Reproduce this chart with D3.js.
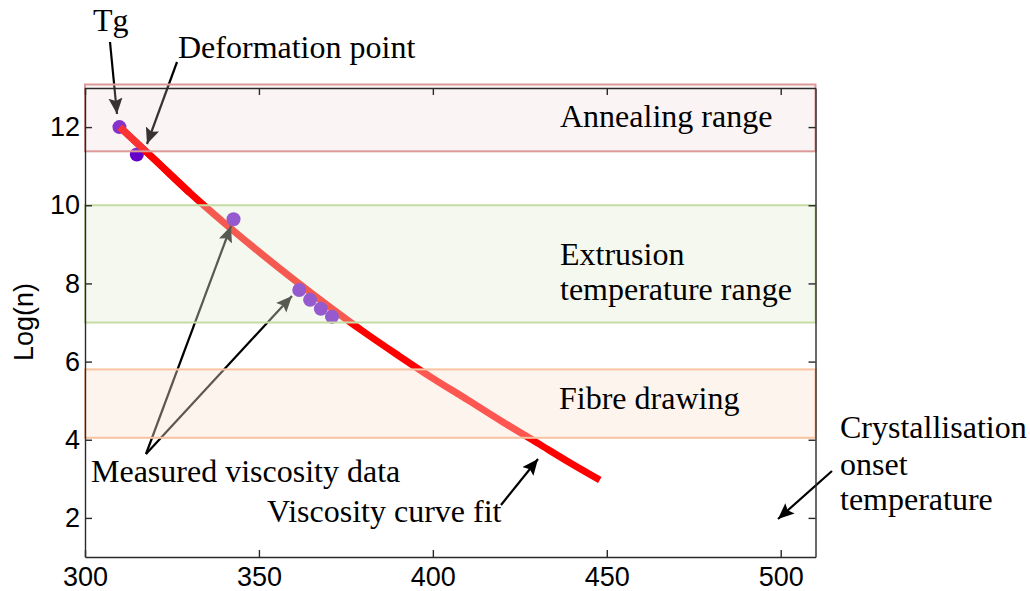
<!DOCTYPE html>
<html>
<head>
<meta charset="utf-8">
<script src="https://cdn.jsdelivr.net/npm/d3@7"></script>
<style>
  html, body { margin: 0; padding: 0; background: #fff; }
  svg { display: block; }
</style>
</head>
<body>
<svg id="chart" width="1030" height="591"></svg>
<script>
// ---- data ----
const xTicks = [300, 350, 400, 450, 500];
const yTicks = [2, 4, 6, 8, 10, 12];

// viscosity curve fit (temperature, log viscosity)
const fitTemp = [310, 320, 330, 340, 350, 360, 370, 380, 390, 400, 410, 420, 430, 440, 448];
const fitLogN = [12.0, 11.17, 10.33, 9.55, 8.81, 8.1, 7.42, 6.77, 6.16, 5.57, 5.02, 4.46, 3.92, 3.38, 2.97];

// measured viscosity data
const measTemp = [309.9, 314.9, 342.7, 361.6, 364.7, 367.8, 371.0];
const measLogN = [12.0, 11.3, 9.64, 7.83, 7.58, 7.35, 7.15];

// processing ranges
const bandNames = ["Annealing range", "Extrusion temperature range", "Fibre drawing"];
const bandLow  = [11.38, 7.0, 4.05];
const bandHigh = [13.09, 10.0, 5.8];
const bandTempMin = 300, bandTempMax = 510;

const yLabel = "Log(n)";

// ---- layout ----
const W = 1030, H = 591;
const svg = d3.select("#chart");
const x = d3.scaleLinear().domain([300, 510]).range([85, 815.5]);
const y = d3.scaleLinear().domain([1, 13]).range([557, 88]);

const serif = "'Liberation Serif', 'Times New Roman', serif";
const sans = "'Liberation Sans', Arial, sans-serif";

svg.append("rect").attr("width", W).attr("height", H).attr("fill", "#fff");

const defs = svg.append("defs");
defs.append("marker")
  .attr("id", "ah").attr("markerUnits", "userSpaceOnUse")
  .attr("markerWidth", 20).attr("markerHeight", 20)
  .attr("refX", 16).attr("refY", 7).attr("orient", "auto")
  .append("path").attr("d", "M0,0 L16,7 L0,14 L3,7 Z").attr("fill", "#000");

// fit curve
const line = d3.line().x(d => x(d[0])).y(d => y(d[1])).curve(d3.curveMonotoneX);
svg.append("path")
  .datum(fitTemp.map((t, i) => [t, fitLogN[i]]))
  .attr("d", line).attr("fill", "none")
  .attr("stroke", "#ff0000").attr("stroke-width", 7);

// measured points
svg.append("g").selectAll("circle")
  .data(measTemp.map((t, i) => [t, measLogN[i]]))
  .join("circle")
  .attr("cx", d => x(d[0])).attr("cy", d => y(d[1])).attr("r", 7)
  .attr("fill", "#6400c8");

// redraw the start of the line over the Tg point
svg.append("path")
  .datum(fitTemp.slice(0, 3).map((t, i) => [t, fitLogN[i]]))
  .attr("d", line).attr("fill", "none")
  .attr("stroke", "#ff0000").attr("stroke-width", 7);

// annotation arrows (pixel layout)
const arrows = [
  [110, 42, 117, 114],
  [177, 62, 147, 144],
  [146, 454, 231, 226],
  [146, 454, 292, 296],
  [501, 505, 538, 459],
  [832, 471, 778, 519]
];
svg.append("g").selectAll("line").data(arrows).join("line")
  .attr("x1", d => d[0]).attr("y1", d => d[1])
  .attr("x2", d => d[2]).attr("y2", d => d[3])
  .attr("stroke", "#000").attr("stroke-width", 2.2)
  .attr("marker-end", "url(#ah)");

// bands (semi-transparent overlay)
const bandFill = ["rgb(238,208,208)", "rgb(229,237,213)", "rgb(253,226,211)"];
const bandAlpha = [0.24, 0.38, 0.38];
const bandStroke = ["#dc9a9a", "#c5dca5", "#f8c3a0"];
svg.append("g").selectAll("rect").data(bandNames).join("rect")
  .attr("x", x(bandTempMin))
  .attr("width", x(bandTempMax) - x(bandTempMin))
  .attr("y", (d, i) => y(bandHigh[i]))
  .attr("height", (d, i) => y(bandLow[i]) - y(bandHigh[i]))
  .attr("fill", (d, i) => bandFill[i])
  .attr("fill-opacity", (d, i) => bandAlpha[i])
  .attr("stroke", (d, i) => bandStroke[i])
  .attr("stroke-width", 2);

// axes box
const axColor = "#2a2a2a";
function styleAxis(g) {
  g.select(".domain").attr("stroke", axColor).attr("stroke-width", 1.4);
  g.selectAll(".tick line").attr("stroke", axColor).attr("stroke-width", 1.4);
  g.selectAll(".tick text").attr("fill", "#000").attr("font-family", sans).attr("font-size", 27);
}
svg.append("g").attr("transform", `translate(0,${y(1)})`)
  .call(d3.axisBottom(x).tickValues(xTicks).tickSizeInner(-7).tickSizeOuter(0).tickPadding(10))
  .call(styleAxis);
svg.append("g").attr("transform", `translate(0,${y(13)})`)
  .call(d3.axisTop(x).tickValues(xTicks).tickSizeInner(-7).tickSizeOuter(0).tickFormat(""))
  .call(styleAxis);
svg.append("g").attr("transform", `translate(${x(300)},0)`)
  .call(d3.axisLeft(y).tickValues(yTicks).tickSizeInner(-7).tickSizeOuter(0).tickPadding(5))
  .call(styleAxis);
svg.append("g").attr("transform", `translate(${x(510)},0)`)
  .call(d3.axisRight(y).tickValues(yTicks).tickSizeInner(-7).tickSizeOuter(0).tickFormat(""))
  .call(styleAxis);

// y label
svg.append("text")
  .attr("transform", "translate(33,322) rotate(-90)")
  .attr("text-anchor", "middle")
  .attr("font-family", sans).attr("font-size", 27).attr("fill", "#000")
  .text(yLabel);

// text annotations
const texts = [
  ["Tg", 93, 31],
  ["Deformation point", 178, 58],
  ["Annealing range", 560, 127],
  ["Extrusion", 560, 265],
  ["temperature range", 560, 300],
  ["Fibre drawing", 559, 409],
  ["Measured viscosity data", 91, 482],
  ["Viscosity curve fit", 267, 522],
  ["Crystallisation", 840, 438],
  ["onset", 840, 475],
  ["temperature", 840, 510]
];
svg.append("g").selectAll("text").data(texts).join("text")
  .attr("x", d => d[1]).attr("y", d => d[2])
  .attr("font-family", serif).attr("font-size", 32).attr("fill", "#000")
  .text(d => d[0]);
</script>
</body>
</html>
